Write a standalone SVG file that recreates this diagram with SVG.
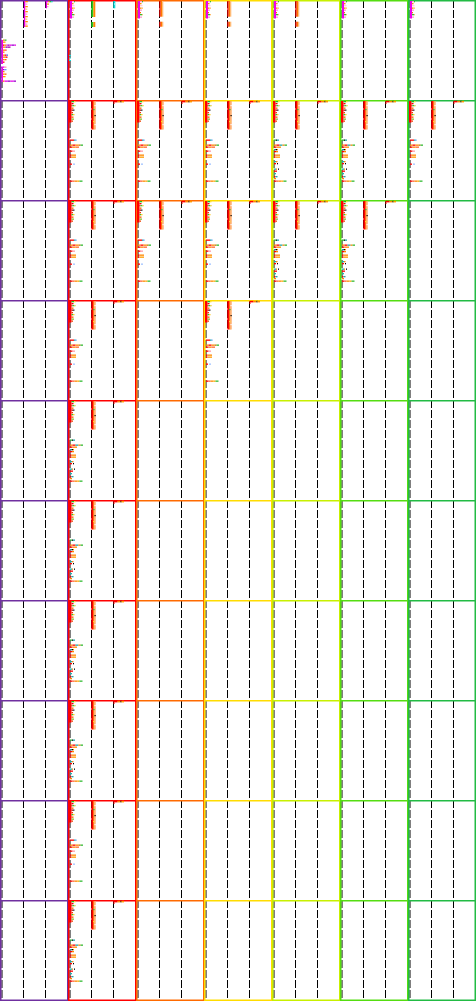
<svg xmlns="http://www.w3.org/2000/svg" width="476" height="1001" viewBox="0 0 476 1001">
<style>
.lane{stroke:#000;stroke-width:1;stroke-dasharray:8 2;fill:none}
.frm{fill:none;stroke-width:1.5}
.hl{stroke-width:1.5}
</style>
<defs>
<g id="up0">
<rect x="1" y="1" width="2.5" height="21.5" fill="#f00"/>
<rect x="3.5" y="1" width="2.5" height="1.3" fill="#2b2"/><rect x="6" y="1" width="1.5" height="1.3" fill="#fd3"/>
<rect x="3.5" y="3" width="2" height="1.3" fill="#e00"/>
<rect x="3.5" y="5" width="1" height="1.3" fill="#c00"/><rect x="4.5" y="5" width="2" height="1.3" fill="#3c3"/><rect x="6.5" y="5" width="1.2" height="1.3" fill="#fc4"/>
<rect x="3.5" y="7.5" width="2" height="1.3" fill="#f60"/>
<rect x="3.5" y="9.5" width="1.5" height="1.3" fill="#b00"/><rect x="5.2" y="9.5" width="1.2" height="1.3" fill="#000"/>
<rect x="3.5" y="12" width="1.5" height="1.3" fill="#e30"/>
<rect x="3.5" y="14" width="1.5" height="1.3" fill="#3b3"/><rect x="5" y="14" width="1.5" height="1.3" fill="#fc2"/>
<rect x="3.5" y="16.5" width="2" height="1.3" fill="#f50"/>
<rect x="3.5" y="18.5" width="2.5" height="1.3" fill="#8b3"/>
<rect x="3.5" y="20.5" width="1.5" height="1.3" fill="#e40"/>
</g>
<g id="up1">
<rect x="23.3" y="1" width="1.8" height="28.5" fill="#f00"/>
<rect x="25.1" y="1" width="1.4" height="28.5" fill="#f60"/>
<rect x="26.5" y="1" width="1.2" height="28.5" fill="#fa6"/>
<rect x="25.1" y="9" width="1.4" height="1.2" fill="#3b3"/>
<rect x="26.5" y="15" width="1.2" height="1.2" fill="#000"/>
<rect x="25.1" y="21" width="1.4" height="1.2" fill="#fd3"/>
<rect x="26.5" y="5" width="1.2" height="1.2" fill="#fff"/>
<rect x="26.5" y="24" width="1.2" height="1.2" fill="#fff"/>
</g>
<g id="up2">
<rect x="45.5" y="0.8" width="4" height="1.6" fill="#f00"/>
<rect x="49.5" y="0.8" width="3" height="1.6" fill="#f80"/>
<rect x="52.5" y="0.8" width="1" height="1.6" fill="#000"/>
<rect x="53.5" y="0.8" width="2.5" height="1.6" fill="#f90"/>
<rect x="45.5" y="2.4" width="1" height="1.6" fill="#f00"/>
</g>
<g id="loA">
<rect x="2" y="39.5" width="4" height="1.3" fill="#f00"/><rect x="6" y="39.5" width="1.5" height="1.3" fill="#2aa"/><rect x="7.5" y="39.5" width="1" height="1.3" fill="#48f"/>
<rect x="2" y="44.5" width="2.5" height="1.3" fill="#f80"/><rect x="4.5" y="44.5" width="3" height="1.3" fill="#f00"/><rect x="7.5" y="44.5" width="3" height="1.3" fill="#f80"/><rect x="10.5" y="44.5" width="2" height="1.3" fill="#c70"/><rect x="12.5" y="44.5" width="2.5" height="1.3" fill="#3b3"/>
<rect x="2" y="46.5" width="2.5" height="1.3" fill="#f00"/><rect x="4.5" y="46.5" width="3" height="1.3" fill="#f80"/><rect x="7.5" y="46.5" width="3.5" height="1.3" fill="#f63"/>
<rect x="2" y="50.5" width="2.5" height="1.3" fill="#f00"/><rect x="4.5" y="50.5" width="2.5" height="1.3" fill="#f9a"/>
<rect x="2" y="54.5" width="1.5" height="1.3" fill="#f00"/><rect x="3.5" y="54.5" width="4.5" height="1.3" fill="#f80"/>
<rect x="2" y="56.5" width="1.5" height="1.3" fill="#f00"/><rect x="3.5" y="56.5" width="4.5" height="1.3" fill="#f90"/>
<rect x="2" y="63.5" width="2" height="1.3" fill="#f00"/><rect x="5.5" y="63.5" width="1" height="1.3" fill="#48f"/>
<rect x="2" y="80.5" width="2.5" height="1.3" fill="#f00"/><rect x="4.5" y="80.5" width="2" height="1.3" fill="#f63"/><rect x="6.5" y="80.5" width="3" height="1.3" fill="#f80"/><rect x="9.5" y="80.5" width="2" height="1.3" fill="#fa0"/><rect x="11.5" y="80.5" width="3" height="1.3" fill="#3b3"/>
</g>
<g id="loB">
<rect x="2" y="39.5" width="2" height="1.3" fill="#3b3"/><rect x="4" y="39.5" width="1" height="1.3" fill="#000"/><rect x="5" y="39.5" width="2" height="1.3" fill="#2aa"/>
<rect x="2" y="44.5" width="2.5" height="1.3" fill="#f80"/><rect x="4.5" y="44.5" width="3" height="1.3" fill="#f00"/><rect x="7.5" y="44.5" width="3" height="1.3" fill="#2aa"/><rect x="10.5" y="44.5" width="2" height="1.3" fill="#f80"/><rect x="12.5" y="44.5" width="2.5" height="1.3" fill="#3b3"/>
<rect x="2" y="46.5" width="2.5" height="1.3" fill="#f00"/><rect x="4.5" y="46.5" width="4.5" height="1.3" fill="#f80"/>
<rect x="2" y="49" width="1.5" height="1.3" fill="#2aa"/><rect x="3.5" y="49" width="1.5" height="1.3" fill="#000"/><rect x="5" y="49" width="1" height="1.3" fill="#f80"/>
<rect x="2" y="51" width="2" height="1.3" fill="#f00"/><rect x="4" y="51" width="2" height="1.3" fill="#f80"/>
<rect x="2" y="54.5" width="1.5" height="1.3" fill="#f00"/><rect x="3.5" y="54.5" width="4.5" height="1.3" fill="#f80"/>
<rect x="2" y="56.5" width="1.5" height="1.3" fill="#f00"/><rect x="3.5" y="56.5" width="4.5" height="1.3" fill="#f90"/>
<rect x="2" y="61" width="2" height="1.3" fill="#2aa"/><rect x="4" y="61" width="1.5" height="1.3" fill="#f80"/>
<rect x="2" y="63" width="2" height="1.3" fill="#f00"/><rect x="5" y="63" width="1" height="1.3" fill="#000"/>
<rect x="2" y="68.5" width="2" height="1.3" fill="#2aa"/><rect x="4" y="68.5" width="1" height="1.3" fill="#f80"/><rect x="6" y="68.5" width="1" height="1.3" fill="#000"/>
<rect x="2" y="70.5" width="3" height="1.3" fill="#f00"/>
<rect x="2" y="73" width="2" height="1.3" fill="#2aa"/>
<rect x="2" y="76" width="1.5" height="1.3" fill="#f00"/><rect x="3.5" y="76" width="2" height="1.3" fill="#2aa"/>
<rect x="2" y="78" width="2" height="1.3" fill="#f80"/>
<rect x="2" y="80.5" width="2.5" height="1.3" fill="#f00"/><rect x="4.5" y="80.5" width="2" height="1.3" fill="#f63"/><rect x="6.5" y="80.5" width="3" height="1.3" fill="#f80"/><rect x="9.5" y="80.5" width="2" height="1.3" fill="#fa0"/><rect x="11.5" y="80.5" width="3" height="1.3" fill="#3b3"/>
</g>
<g id="cellA"><use href="#up0"/><use href="#up1"/><use href="#up2"/><use href="#loA"/></g>
<g id="cellB"><use href="#up0"/><use href="#up1"/><use href="#up2"/><use href="#loB"/></g>
<g id="m0">
<rect x="2" y="1" width="2" height="17.5" fill="#e0e"/>
<rect x="4" y="1" width="2" height="1.3" fill="#f9c"/><rect x="6" y="1" width="1" height="1.3" fill="#3b3"/>
<rect x="4" y="3" width="1.5" height="1.3" fill="#f80"/>
<rect x="4" y="5" width="2.5" height="1.3" fill="#fcd"/>
<rect x="4" y="7.5" width="1.5" height="1.3" fill="#f80"/><rect x="5.5" y="7.5" width="1.5" height="1.3" fill="#fb6"/>
<rect x="4" y="9.5" width="2" height="1.3" fill="#f9c"/>
<rect x="4" y="12" width="1" height="1.3" fill="#f60"/>
<rect x="4" y="14" width="2" height="1.3" fill="#3b3"/><rect x="6" y="14" width="1" height="1.3" fill="#fb6"/>
<rect x="4" y="16.5" width="2" height="1.3" fill="#f9c"/>
</g>
<g id="m1">
<rect x="23.3" y="1" width="1.4" height="15.7" fill="#e00"/><rect x="24.7" y="1" width="1.3" height="15.7" fill="#f70"/><rect x="26" y="1" width="1.3" height="15.7" fill="#fb7"/>
<rect x="23.3" y="21.7" width="1.4" height="5" fill="#e00"/><rect x="24.7" y="21.7" width="1.3" height="5" fill="#f70"/><rect x="26" y="21.7" width="1.3" height="5" fill="#fb7"/>
</g>
</defs>

<g id="lanes">
<path class="lane" d="M2 0V1001M23.5 0V1001M45.5 0V1001M70 0V1001M91.5 0V1001M113.5 0V1001M138 0V1001M159.5 0V1001M181.5 0V1001M206 0V1001M227.5 0V1001M249.5 0V1001M274 0V1001M295.5 0V1001M317.5 0V1001M342 0V1001M363.5 0V1001M385.5 0V1001M410 0V1001M431.5 0V1001M453.5 0V1001"/>
</g>

<g id="frames">
<g id="group-0" stroke="#7030a0"><rect class="frm" x="0.75" y="0.75" width="67" height="999.5"/><path class="hl" d="M0 100.75H68M0 200.75H68M0 300.75H68M0 400.75H68M0 500.75H68M0 600.75H68M0 700.75H68M0 800.75H68M0 900.75H68"/></g>
<g id="group-1" stroke="#ff0000"><rect class="frm" x="68.75" y="0.75" width="67" height="999.5"/><path class="hl" d="M68 100.75H136M68 200.75H136M68 300.75H136M68 400.75H136M68 500.75H136M68 600.75H136M68 700.75H136M68 800.75H136M68 900.75H136"/></g>
<g id="group-2" stroke="#ff6a00"><rect class="frm" x="136.75" y="0.75" width="67" height="999.5"/><path class="hl" d="M136 100.75H204M136 200.75H204M136 300.75H204M136 400.75H204M136 500.75H204M136 600.75H204M136 700.75H204M136 800.75H204M136 900.75H204"/></g>
<g id="group-3" stroke="#ffdc00"><rect class="frm" x="204.75" y="0.75" width="67" height="999.5"/><path class="hl" d="M204 100.75H272M204 200.75H272M204 300.75H272M204 400.75H272M204 500.75H272M204 600.75H272M204 700.75H272M204 800.75H272M204 900.75H272"/></g>
<g id="group-4" stroke="#c8f000"><rect class="frm" x="272.75" y="0.75" width="67" height="999.5"/><path class="hl" d="M272 100.75H340M272 200.75H340M272 300.75H340M272 400.75H340M272 500.75H340M272 600.75H340M272 700.75H340M272 800.75H340M272 900.75H340"/></g>
<g id="group-5" stroke="#55dd11"><rect class="frm" x="340.75" y="0.75" width="67" height="999.5"/><path class="hl" d="M340 100.75H408M340 200.75H408M340 300.75H408M340 400.75H408M340 500.75H408M340 600.75H408M340 700.75H408M340 800.75H408M340 900.75H408"/></g>
<g id="group-6" stroke="#22bb44"><rect class="frm" x="408.75" y="0.75" width="66.5" height="999.5"/><path class="hl" d="M408 100.75H476M408 200.75H476M408 300.75H476M408 400.75H476M408 500.75H476M408 600.75H476M408 700.75H476M408 800.75H476M408 900.75H476"/></g>
</g>

<g id="row-0">
<g id="r0-g0">
<rect x="1.5" y="40" width="1.5" height="42" fill="#e0e"/>
<rect x="3" y="39.5" width="1.5" height="1.3" fill="#f80"/><rect x="4.5" y="39.5" width="2" height="1.3" fill="#3b3"/>
<rect x="3" y="41.5" width="2.5" height="1.3" fill="#f90"/>
<rect x="3" y="44.5" width="1.5" height="1.3" fill="#f00"/><rect x="4.5" y="44.5" width="2" height="1.3" fill="#f80"/><rect x="6.5" y="44.5" width="1" height="1.3" fill="#e0e"/><rect x="7.5" y="44.5" width="2" height="1.3" fill="#90c"/><rect x="9.5" y="44.5" width="2" height="1.3" fill="#e0e"/><rect x="11.5" y="44.5" width="3" height="1.3" fill="#90c"/><rect x="14.5" y="44.5" width="1.5" height="1.3" fill="#e0e"/>
<rect x="3" y="46.5" width="2.5" height="1.3" fill="#f80"/><rect x="5.5" y="46.5" width="2" height="1.3" fill="#90c"/><rect x="7.5" y="46.5" width="3" height="1.3" fill="#a0a"/>
<rect x="3" y="49.5" width="2.5" height="1.3" fill="#f80"/><rect x="5.5" y="49.5" width="1" height="1.3" fill="#f00"/>
<rect x="3" y="51.5" width="1.5" height="1.3" fill="#f80"/>
<rect x="3" y="54.5" width="1.5" height="1.3" fill="#f80"/><rect x="4.5" y="54.5" width="2" height="1.3" fill="#f00"/><rect x="6.5" y="54.5" width="1.5" height="1.3" fill="#36f"/>
<rect x="3" y="56.5" width="2.5" height="1.3" fill="#f80"/><rect x="5.5" y="56.5" width="2" height="1.3" fill="#f00"/>
<rect x="3" y="59" width="1.5" height="1.3" fill="#f90"/><rect x="4.5" y="59" width="2" height="1.3" fill="#f60"/>
<rect x="3" y="61.5" width="1.5" height="1.3" fill="#f00"/>
<rect x="1" y="64" width="5" height="2.5" fill="#fff"/>
<rect x="3" y="66.5" width="1.5" height="1.3" fill="#e0e"/><rect x="4.5" y="66.5" width="2" height="1.3" fill="#f9a"/>
<rect x="3" y="69" width="1.5" height="1.3" fill="#90c"/><rect x="4.5" y="69" width="2" height="1.3" fill="#69f"/>
<rect x="3" y="71" width="1.5" height="1.3" fill="#f80"/>
<rect x="3" y="73.5" width="1.5" height="1.3" fill="#f80"/><rect x="4.5" y="73.5" width="2" height="1.3" fill="#f60"/>
<rect x="3" y="76" width="2.5" height="1.3" fill="#f90"/>
<rect x="3" y="80.5" width="1.5" height="1.3" fill="#f80"/><rect x="4.5" y="80.5" width="3" height="1.3" fill="#e0e"/><rect x="7.5" y="80.5" width="3" height="1.3" fill="#90c"/><rect x="10.5" y="80.5" width="3" height="1.3" fill="#e0e"/><rect x="13.5" y="80.5" width="2.5" height="1.3" fill="#90c"/>
<rect x="23.8" y="1" width="1.5" height="26" fill="#e0e"/>
<rect x="25.3" y="1" width="2.5" height="1.3" fill="#f80"/><rect x="25.3" y="3.5" width="2" height="1.3" fill="#f9c"/><rect x="25.3" y="6" width="2.5" height="1.3" fill="#f80"/><rect x="25.3" y="8.5" width="2" height="1.3" fill="#fb6"/><rect x="25.3" y="11" width="2.5" height="1.3" fill="#f80"/><rect x="25.3" y="13.5" width="2" height="1.3" fill="#f9c"/><rect x="25.3" y="16" width="2.5" height="1.3" fill="#f80"/><rect x="25.3" y="18.5" width="2" height="1.3" fill="#fb6"/><rect x="25.3" y="21" width="2.5" height="1.3" fill="#f80"/><rect x="25.3" y="23.5" width="2" height="1.3" fill="#f9c"/><rect x="25.3" y="25.5" width="2.5" height="1.3" fill="#f80"/>
<rect x="45.7" y="1" width="2.5" height="1.3" fill="#e0e"/><rect x="48.2" y="1" width="1.5" height="1.3" fill="#f80"/><rect x="49.7" y="1" width="1.5" height="1.3" fill="#3b3"/><rect x="51.2" y="1" width="1.5" height="1.3" fill="#2cc"/>
<rect x="45.7" y="2.3" width="1.3" height="6" fill="#e0e"/><rect x="47" y="3.5" width="2" height="1.2" fill="#f80"/><rect x="47" y="6" width="1.5" height="1.2" fill="#f9c"/>
</g>
<g id="r0-g1" transform="translate(68 0)">
<use href="#m0"/>
<rect x="23.3" y="1" width="2" height="16" fill="#2c2"/><rect x="25.3" y="1" width="2" height="16" fill="#f80"/>
<rect x="23.3" y="22" width="2" height="5" fill="#2c2"/><rect x="25.3" y="22" width="2" height="5" fill="#f80"/>
<rect x="45.3" y="1" width="2" height="7.3" fill="#1dd"/><rect x="46.3" y="3" width="1" height="2" fill="#9ff"/>
<rect x="1" y="55" width="2" height="1" fill="#1dd"/><rect x="1" y="57.5" width="2" height="1" fill="#1dd"/><rect x="1" y="60" width="2" height="1" fill="#1dd"/>
</g>
<g id="r0-g2" transform="translate(136 0)"><use href="#m0"/><use href="#m1"/></g>
<g id="r0-g3" transform="translate(204 0)"><use href="#m0"/><use href="#m1"/></g>
<g id="r0-g4" transform="translate(272 0)"><use href="#m0"/><use href="#m1"/></g>
<g id="r0-g5" transform="translate(340 0)"><use href="#m0"/></g>
<g id="r0-g6" transform="translate(408 0)"><use href="#m0"/></g>
</g>

<g id="cells">
<use id="r1-g1" href="#cellA" x="68" y="100"/>
<use id="r1-g2" href="#cellA" x="136" y="100"/>
<use id="r1-g3" href="#cellA" x="204" y="100"/>
<use id="r1-g4" href="#cellB" x="272" y="100"/>
<use id="r1-g5" href="#cellB" x="340" y="100"/>
<use id="r1-g6" href="#cellA" x="408" y="100"/>
<use id="r2-g1" href="#cellA" x="68" y="200"/>
<use id="r2-g2" href="#cellA" x="136" y="200"/>
<use id="r2-g3" href="#cellA" x="204" y="200"/>
<use id="r2-g4" href="#cellB" x="272" y="200"/>
<use id="r2-g5" href="#cellB" x="340" y="200"/>
<use id="r3-g1" href="#cellA" x="68" y="300"/>
<use id="r3-g3" href="#cellA" x="204" y="300"/>
<use id="r4-g1" href="#cellB" x="68" y="400"/>
<use id="r5-g1" href="#cellB" x="68" y="500"/>
<use id="r6-g1" href="#cellB" x="68" y="600"/>
<use id="r7-g1" href="#cellB" x="68" y="700"/>
<use id="r8-g1" href="#cellA" x="68" y="800"/>
<use id="r9-g1" href="#cellB" x="68" y="900"/>
</g>
</svg>
